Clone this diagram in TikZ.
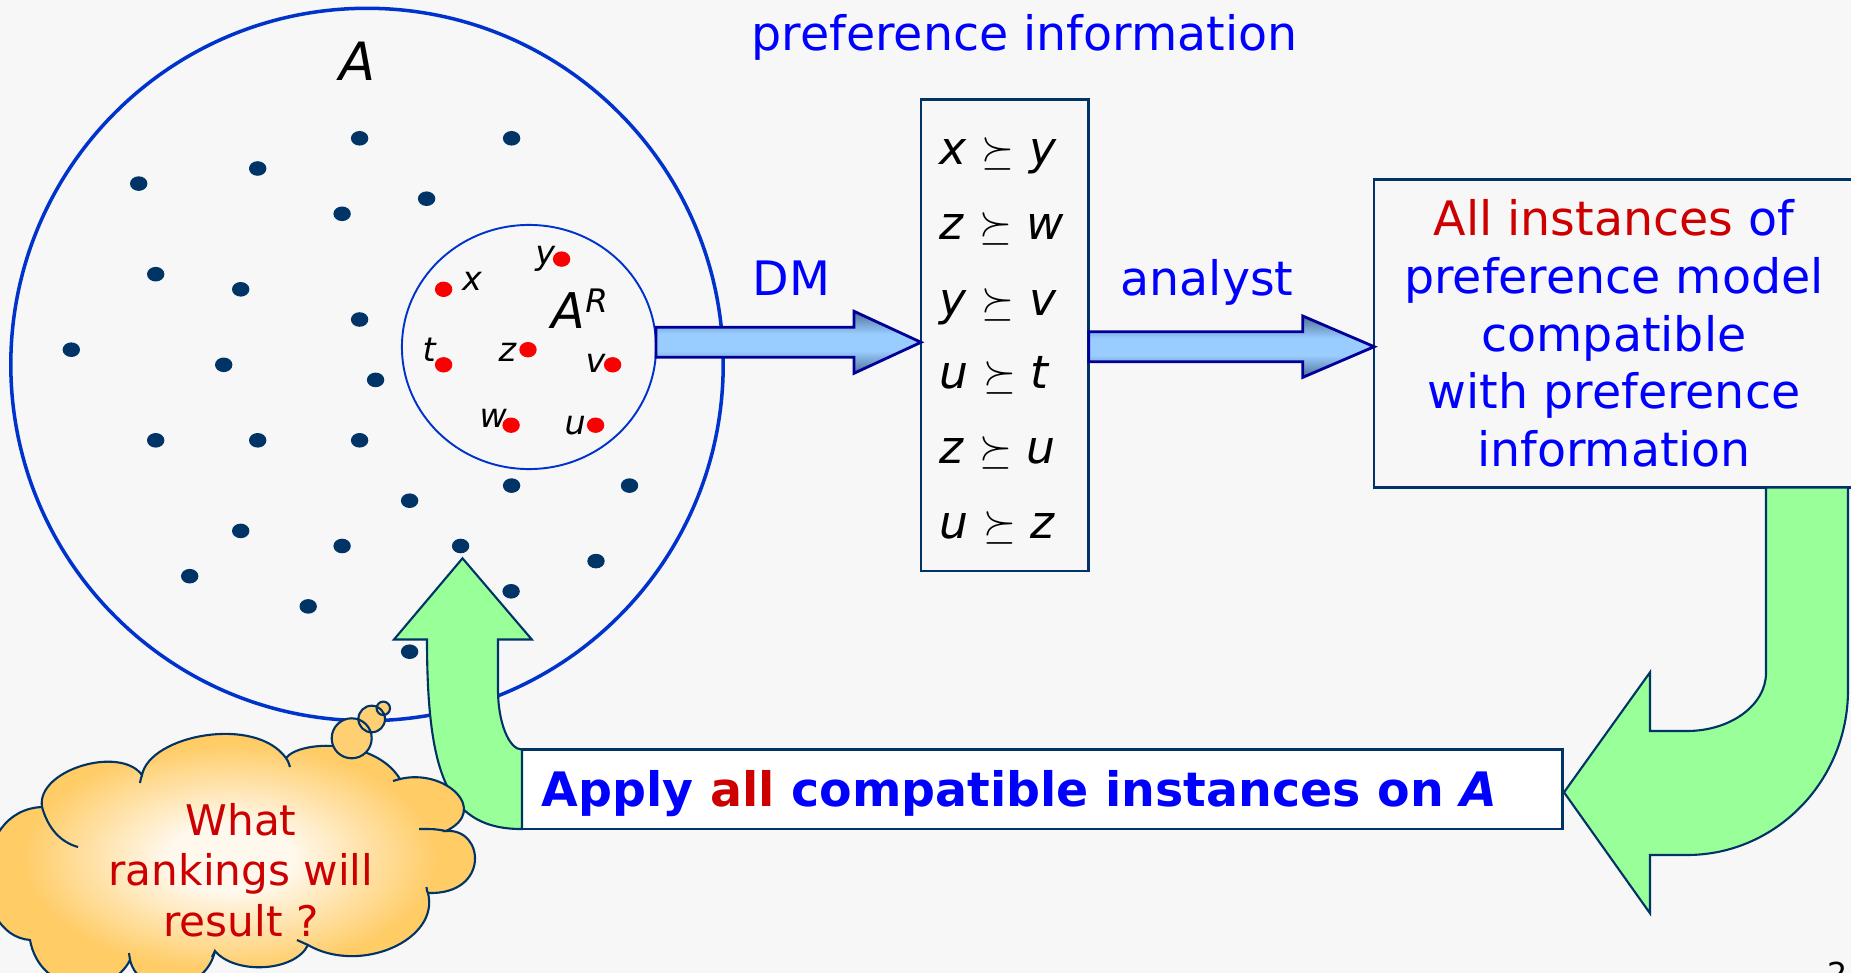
\documentclass[tikz,border=0pt]{standalone}
\usepackage{fontspec}
\setmainfont{DejaVu Sans}
\usetikzlibrary{calc,shapes.geometric}
\definecolor{bg}{RGB}{247,247,247}
\definecolor{circblue}{RGB}{0,51,204}
\definecolor{dotnavy}{RGB}{0,51,102}
\definecolor{dotred}{RGB}{250,0,0}
\definecolor{txtblue}{RGB}{0,0,255}
\definecolor{txtred}{RGB}{204,0,0}
\definecolor{boxline}{RGB}{0,51,102}
\definecolor{arrline}{RGB}{0,0,153}
\definecolor{adark}{RGB}{80,112,150}
\definecolor{alight}{RGB}{153,204,255}
\definecolor{agreen}{RGB}{153,255,153}
\definecolor{cloudout}{RGB}{255,204,102}
\definecolor{cloudin}{RGB}{255,248,236}
\definecolor{bubfill}{RGB}{255,207,115}
\pgfdeclareverticalshading{arrowshade}{100bp}{color(0bp)=(adark); color(25bp)=(adark); color(43bp)=(alight); color(57bp)=(alight); color(75bp)=(adark); color(100bp)=(adark)}
\pgfdeclareradialshading{cloudshade}{\pgfpoint{0bp}{0bp}}{color(0bp)=(cloudin); color(6bp)=(cloudin); color(20bp)=(cloudout); color(50bp)=(cloudout)}
\newcommand\mainsz{\fontsize{13.5}{16.4}\selectfont}
\begin{document}
\begin{tikzpicture}[x=0.01cm, y=-0.01cm,
  boxstyle/.style={draw=boxline, line width=0.7pt, rectangle, inner sep=0pt, outer sep=0pt},
  bluearrow/.style={shade, shading=arrowshade, draw=arrline, line width=0.8pt, line join=miter},
  greenarrow/.style={fill=agreen, draw=boxline, line width=0.6pt, line join=miter},
  cloudline/.style={draw=boxline, line width=0.6pt},
  btext/.style={text=txtblue, font=\mainsz, inner sep=0pt, anchor=base},
  lab/.style={font=\fontsize{9.5}{11}\selectfont\itshape, inner sep=0pt, anchor=base west},
  reltext/.style={font=\fontsize{13}{15}\selectfont, inner sep=0pt, anchor=base west}]
\useasboundingbox (0,0) rectangle (1851,973);
\clip (0,0) rectangle (1851,973);
\fill[bg] (0,0) rectangle (1851,973);

% set A
\node[draw=circblue, line width=1pt, circle, minimum size=7.12cm, inner sep=0pt, outer sep=0pt] (A) at (367,364.5) {};
\foreach \p in {(359.6,138.3),(511.6,138.3),(257.7,168.5),(138.7,183.6),(426.6,198.7),(342.1,213.8),(155.7,274.2),(240.7,289.3),(359.6,319.5),(71.3,349.7),(223.7,364.8),(375.6,379.9),(155.7,440.3),(257.7,440.3),(359.6,440.3),(511.6,485.6),(629.5,485.6),(409.6,500.7),(240.7,530.9),(342.1,546),(460.6,546),(596,561.1),(189.7,576.2),(511.1,591.3),(308.2,606.4),(409.6,651.7)}
  \fill[dotnavy] \p ellipse[x radius=8.7, y radius=7.3];
\node[font=\fontsize{15}{18}\selectfont\itshape, inner sep=0pt, anchor=base west] (labA) at (339,80.2) {A};

% reference set A^R
\node[draw=circblue, line width=0.55pt, ellipse, minimum width=2.54cm, minimum height=2.44cm, inner sep=0pt, outer sep=0pt] (AR) at (529,347) {};
\foreach \p in {(443.6,289.3),(561.6,259.1),(443.6,364.8),(528,349.7),(612.6,364.8),(511.1,425.2),(595.6,425.2)}
  \fill[dotred] \p ellipse[x radius=8.7, y radius=7.7];
\node[lab] (lx) at (461.5,290.2) {x};
\node[lab] (ly) at (534.7,264.8) {y};
\node[lab] (lt) at (422,361) {t};
\node[lab] (lz) at (498,361) {z};
\node[lab] (lv) at (585,372.8) {v};
\node[lab] (lw) at (479,427) {w};
\node[lab] (lu) at (564,434) {u};
\node[font=\fontsize{14}{16}\selectfont\itshape, inner sep=0pt, anchor=base west] (labAR) at (551,328) {A\raisebox{4.4pt}{\fontsize{9.2}{10}\selectfont R}};

% title
\node[btext] (title) at (1024.7,50.7) {preference information};

% preference information box
\node[boxstyle, anchor=north west, minimum width=1.676cm, minimum height=4.71cm] (prefbox) at (921,99.5) {};
\foreach \a/\b/\yy [count=\i] in {x/y/165, z/w/240, y/v/315, u/t/388.3, z/u/463.3, u/z/538.3}
  \node[reltext] (rel\i) at (939,\yy) {\textit{\a} $\succeq$ \textit{\b}};

% DM arrow
\coordinate (dmS) at (AR.east |- 0,342.3);
\coordinate (dmT) at (prefbox.west |- 0,342.3);
\path[bluearrow] ($(dmS)+(0,-15)$) -- ($(dmT)+(-67,-15)$) -- ($(dmT)+(-67,-31)$) -- (dmT) -- ($(dmT)+(-67,31)$) -- ($(dmT)+(-67,15)$) -- ($(dmS)+(0,15)$) -- cycle;
\node[btext] (dmlab) at (791.7,295) {DM};

% model box
\node[boxstyle, anchor=north west, minimum width=5.1cm, minimum height=3.08cm] (infobox) at (1374.2,179.4) {};
\node[btext] (info1) at (1614,236) {\textcolor{txtred}{All instances} of};
\node[btext] (info2) at (1614,293.3) {preference model};
\node[btext] (info3) at (1614,351.7) {compatible};
\node[btext] (info4) at (1614,408.3) {with preference};
\node[btext] (info5) at (1614,466.7) {information};

% analyst arrow
\coordinate (anS) at (prefbox.east |- 0,346.7);
\coordinate (anT) at (infobox.west |- 0,346.7);
\path[bluearrow] ($(anS)+(0,-15)$) -- ($(anT)+(-71.5,-15)$) -- ($(anT)+(-71.5,-30.7)$) -- (anT) -- ($(anT)+(-71.5,30.7)$) -- ($(anT)+(-71.5,15)$) -- ($(anS)+(0,15)$) -- cycle;
\node[btext] (anlab) at (1207,295) {analyst};

% apply box
\node[boxstyle, fill=white, anchor=north west, minimum width=10.4cm, minimum height=0.794cm] (applybox) at (522,749.6) {};
\node[inner sep=0pt, anchor=base west, font=\mainsz\bfseries] (applytxt) at (541,806.7) {\textcolor{txtblue}{Apply} \textcolor{txtred}{all} \textcolor{txtblue}{compatible instances on \textit{A}}};

% right green U-turn arrow
\coordinate (rtip) at (1564,792.3);
\path[greenarrow] (infobox.south -| 1766,0) -- (1766,673) .. controls (1766,705) and (1730.6,731) .. (1687,731) -- (1650,731) -- (1650,672.3) -- (rtip) -- (1650,913.3) -- (1650,855) -- (1687,855) .. controls (1775.9,855) and (1848,781) .. (1848,690) -- (infobox.south -| 1848,0) -- cycle;

% left green arrow
\path[greenarrow] (applybox.north west) .. controls (508.8,749.6) and (498,722) .. (498,690) -- (498,639.5) -- (531.8,639.5) -- (462.5,558.3) -- (394,639.5) -- (427,639.5) .. controls (427,780) and (450,829) .. (applybox.south west) -- cycle;

% thought cloud
\path[draw=boxline, line width=0.6pt, shade, shading=cloudshade] (42,807)
 .. controls (36,770) and (120,745) .. (142,775)
 .. controls (150,735) and (255,715) .. (286,758)
 .. controls (300,740) and (375,738) .. (400,779)
 .. controls (445,768) and (490,810) .. (446,831)
 .. controls (485,828) and (490,895) .. (428,893)
 .. controls (440,940) and (360,975) .. (308,945)
 .. controls (295,972) and (235,975) .. (215,951)
 .. controls (205,995) and (140,1000) .. (130,960)
 .. controls (110,1000) and (40,995) .. (30,940)
 .. controls (-30,935) and (-30,810) .. (42,807) -- cycle;
\draw[cloudline] (42,807) .. controls (48,828) and (60,842) .. (78,847);
\draw[cloudline] (142,775) .. controls (141,778) .. (140,783);
\draw[cloudline] (286,758) .. controls (288,761) .. (290,767);
\draw[cloudline] (400,779) .. controls (397,780) .. (393,781);
\draw[cloudline] (446,831) .. controls (435,829) .. (419,829);
\draw[cloudline] (428,893) .. controls (427,891) .. (426.5,887);
\draw[cloudline] (308,945) .. controls (303,943) .. (297,940);
\draw[cloudline] (215,951) .. controls (214,953) .. (212,957);
\draw[cloudline] (130,960) .. controls (129,957) .. (129,953);
\fill[bubfill] (351.7,738.3) circle[radius=20] (371.7,719) circle[radius=13.3] (383.3,708.3) circle[radius=6.7];
\draw[cloudline] (351.7,738.3) circle[radius=20] (371.7,719) circle[radius=13.3] (383.3,708.3) circle[radius=6.7];
\node[text=txtred, font=\fontsize{12}{14.4}\selectfont, inner sep=0pt, anchor=base] (c1) at (241,835) {What};
\node[text=txtred, font=\fontsize{12}{14.4}\selectfont, inner sep=0pt, anchor=base] (c2) at (241,885.7) {rankings will};
\node[text=txtred, font=\fontsize{12}{14.4}\selectfont, inner sep=0pt, anchor=base] (c3) at (241,936) {result ?};

% page number
\node[inner sep=0pt, anchor=north, font=\fontsize{9}{10}\selectfont] (pagenum) at (1838,961) {2};
\end{tikzpicture}
\end{document}
